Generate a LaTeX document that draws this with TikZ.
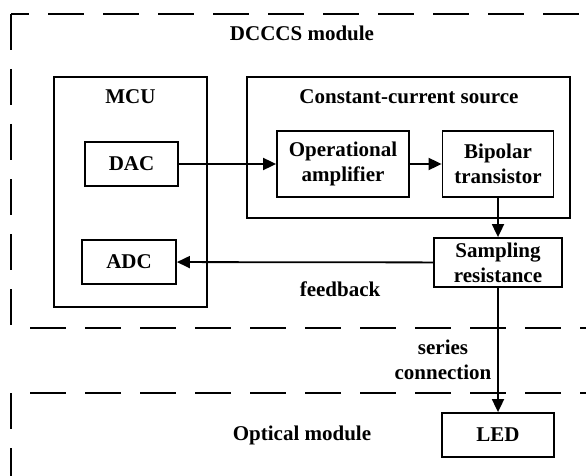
\documentclass[tikz,border=0pt]{standalone}
\usepackage{fontspec}
\setmainfont{Liberation Serif}
\usetikzlibrary{arrows.meta}
\begin{document}
\begin{tikzpicture}[x=1pt,y=-1pt,
  every node/.style={font=\fontsize{21}{25}\selectfont\bfseries, align=center},
  blk/.style={draw, line width=1.8pt, inner sep=0pt},
  dsh/.style={line width=2pt, dash pattern=on 36pt off 19pt},
  arr/.style={line width=1.8pt, -{Triangle[length=13pt,width=12pt]}},
  txt/.style={inner sep=0pt}]
\useasboundingbox (0,0) rectangle (586,476);
% dashed module frames
\coordinate (c1) at (11,14);
\coordinate (c2) at (11,328);
\coordinate (c3) at (11,393);
\draw[dsh, dash phase=18pt] (c1) -- (586,14);
\draw[dsh] (c1) -- (c2);
\draw[dsh, dash phase=36pt] (c2) -- (586,328);
\draw[dsh, dash phase=36pt] (c3) -- (586,393);
\draw[dsh] (c3) -- (11,476);
% containers
\node[blk, minimum width=153pt, minimum height=230pt] (mcu) at (130.5,192) {};
\node[txt] (mcutitle) at (130.5,97) {MCU};
\node[blk, minimum width=323pt, minimum height=141pt] (ccs) at (408.5,147.5) {};
\node[txt] (ccstitle) at (409,97) {Constant-current source};
% blocks
\node[blk, minimum width=93pt, minimum height=44pt] (dac) at (131.5,164) {DAC};
\node[blk, minimum width=94pt, minimum height=44pt] (adc) at (129,262) {ADC};
\node[blk, minimum width=132pt, minimum height=66pt] (op) at (343,164) {Operational\\amplifier};
\node[blk, minimum width=111pt, minimum height=66pt] (bip) at (498,164) {Bipolar\\transistor};
\node[blk, minimum width=128pt, minimum height=49pt] (samp) at (498,262.5) {Sampling\\resistance};
\node[blk, minimum width=112pt, minimum height=44pt] (led) at (498,435) {LED};
% labels
\node[txt] (dcccs) at (302,33) {DCCCS module};
\node[txt] (optical) at (302,435) {Optical module};
\node[txt] (fb) at (340,289) {feedback};
\node[txt] (series) at (443,360) {series\\connection};
% connectors
\draw[arr] (dac) -- (op);
\draw[arr] (op) -- (bip);
\draw[arr] (bip) -- (samp);
\draw[arr] (samp) -- (adc);
\draw[arr] (samp) -- (led);
\end{tikzpicture}
\end{document}
